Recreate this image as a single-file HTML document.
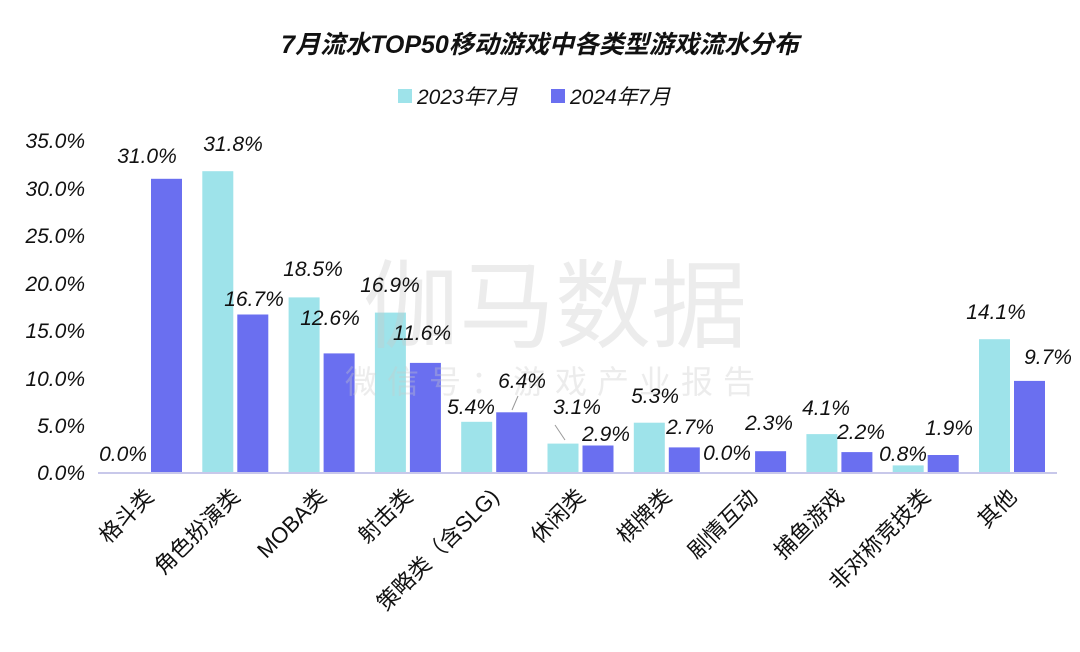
<!DOCTYPE html>
<html><head><meta charset="utf-8"><style>
body{margin:0;background:#fff}
text{font-family:"Liberation Sans","Noto Sans CJK SC",sans-serif}
</style></head><body>
<svg width="1080" height="647" xmlns="http://www.w3.org/2000/svg">
<rect width="1080" height="647" fill="#fff"/>
<text x="540" y="53" text-anchor="middle" font-size="25" font-weight="bold" font-style="italic" fill="#111">7月流水TOP50移动游戏中各类型游戏流水分布</text>
<rect x="398" y="89" width="14" height="14" fill="#9ee3ea"/>
<text x="417" y="104" font-size="21" font-style="italic" fill="#111">2023年7月</text>
<rect x="551" y="89" width="14" height="14" fill="#6a6ff0"/>
<text x="570" y="104" font-size="21" font-style="italic" fill="#111">2024年7月</text>
<g font-size="21" font-style="italic" fill="#111" text-anchor="end">
<text x="85" y="148">35.0%</text><text x="85" y="196">30.0%</text><text x="85" y="243">25.0%</text><text x="85" y="291">20.0%</text><text x="85" y="338">15.0%</text><text x="85" y="386">10.0%</text><text x="85" y="433">5.0%</text><text x="85" y="480">0.0%</text>
</g>
<g fill="#9ee3ea">
<rect x="202.3" y="171.2" width="31" height="301.8"/>
<rect x="288.6" y="297.4" width="31" height="175.6"/>
<rect x="374.9" y="312.6" width="31" height="160.4"/>
<rect x="461.2" y="421.8" width="31" height="51.2"/>
<rect x="547.5" y="443.6" width="31" height="29.4"/>
<rect x="633.8" y="422.7" width="31" height="50.3"/>
<rect x="806.4" y="434.1" width="31" height="38.9"/>
<rect x="892.7" y="465.4" width="31" height="7.6"/>
<rect x="979" y="339.2" width="31" height="133.8"/>
</g>
<g fill="#6a6ff0">
<rect x="151" y="178.8" width="31" height="294.2"/>
<rect x="237.3" y="314.5" width="31" height="158.5"/>
<rect x="323.6" y="353.4" width="31" height="119.6"/>
<rect x="409.9" y="362.9" width="31" height="110.1"/>
<rect x="496.2" y="412.3" width="31" height="60.7"/>
<rect x="582.5" y="445.5" width="31" height="27.5"/>
<rect x="668.8" y="447.4" width="31" height="25.6"/>
<rect x="755.1" y="451.2" width="31" height="21.8"/>
<rect x="841.4" y="452.1" width="31" height="20.9"/>
<rect x="927.7" y="455" width="31" height="18"/>
<rect x="1014" y="380.9" width="31" height="92.1"/>
</g>
<g fill="rgba(200,200,200,0.35)" text-anchor="middle">
<text x="555" y="340" font-size="96">伽马数据</text>
<text x="555" y="393" font-size="32" letter-spacing="10">微信号：游戏产业报告</text>
</g>
<line x1="98" y1="473" x2="1057" y2="473" stroke="#c8c8ea" stroke-width="2"/>
<g font-size="21" font-style="italic" fill="#111" text-anchor="middle">
<text x="123" y="461">0.0%</text><text x="147" y="163">31.0%</text>
<text x="233" y="151">31.8%</text><text x="254" y="306">16.7%</text>
<text x="313" y="276">18.5%</text><text x="330" y="325">12.6%</text>
<text x="390" y="292">16.9%</text><text x="422" y="340">11.6%</text>
<text x="471" y="414">5.4%</text><text x="522" y="388">6.4%</text>
<text x="577" y="414">3.1%</text><text x="606" y="441">2.9%</text>
<text x="655" y="403">5.3%</text><text x="690" y="434">2.7%</text>
<text x="727" y="460">0.0%</text><text x="769" y="430">2.3%</text>
<text x="826" y="415">4.1%</text><text x="861" y="439">2.2%</text>
<text x="903" y="461">0.8%</text><text x="949" y="435">1.9%</text>
<text x="996" y="319">14.1%</text><text x="1048" y="364">9.7%</text>
</g>
<line x1="518" y1="396" x2="512" y2="410" stroke="#999"/>
<line x1="555" y1="425" x2="565" y2="440" stroke="#999"/>
<g font-size="22" fill="#111" text-anchor="end">
<text transform="translate(155,498) rotate(-45)">格斗类</text>
<text transform="translate(241.3,498) rotate(-45)">角色扮演类</text>
<text transform="translate(327.6,498) rotate(-45)">MOBA类</text>
<text transform="translate(413.9,498) rotate(-45)">射击类</text>
<text transform="translate(500.2,498) rotate(-45)">策略类（含SLG)</text>
<text transform="translate(586.5,498) rotate(-45)">休闲类</text>
<text transform="translate(672.8,498) rotate(-45)">棋牌类</text>
<text transform="translate(759.1,498) rotate(-45)">剧情互动</text>
<text transform="translate(845.4,498) rotate(-45)">捕鱼游戏</text>
<text transform="translate(931.7,498) rotate(-45)">非对称竞技类</text>
<text transform="translate(1018,498) rotate(-45)">其他</text>
</g>
</svg>
</body></html>
